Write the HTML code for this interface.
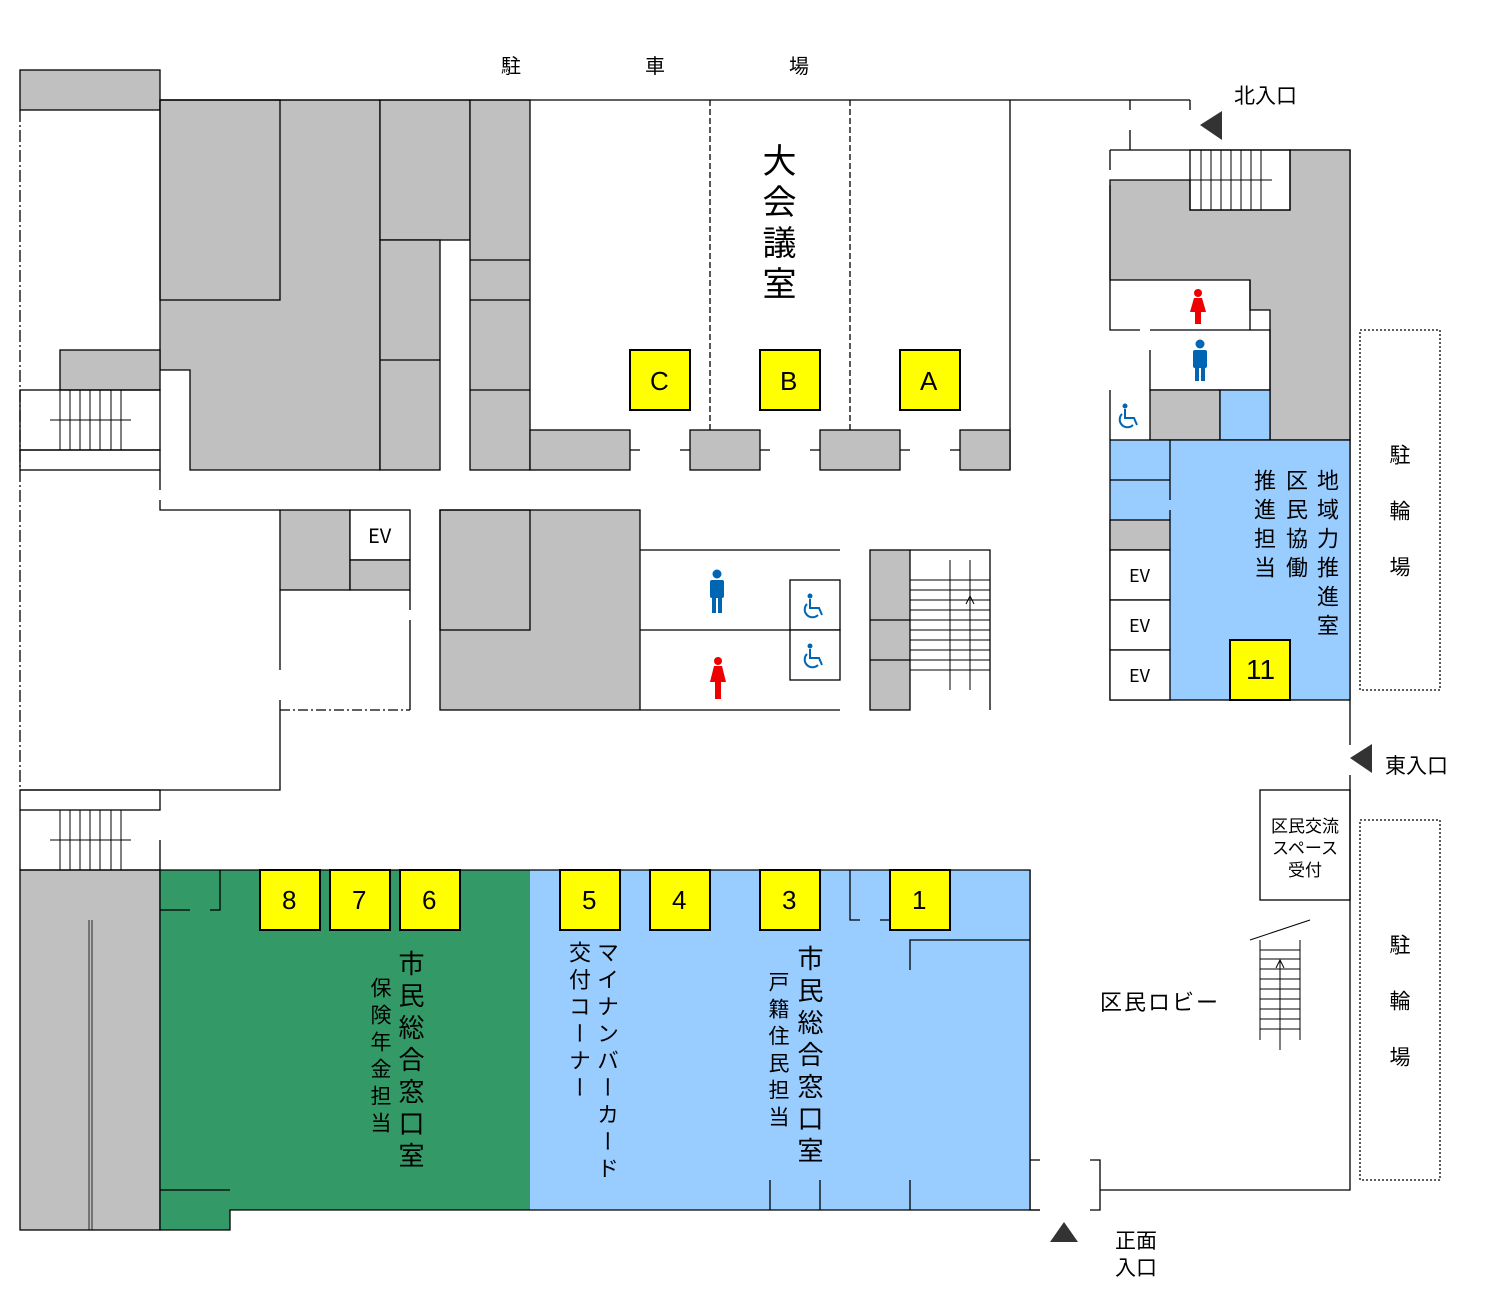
<!DOCTYPE html>
<html><head><meta charset="utf-8"><style>
body{margin:0;background:#fff;width:1511px;height:1311px;overflow:hidden;position:relative;font-family:"Liberation Sans","Noto Sans CJK JP",sans-serif}
svg{position:absolute;left:0;top:0}
.v{position:absolute;writing-mode:vertical-rl;font-family:"Noto Sans CJK JP",sans-serif;color:#000;line-height:1;white-space:nowrap}
.t{position:absolute;font-family:"Noto Sans CJK JP",sans-serif;color:#000;line-height:1;white-space:nowrap}
</style></head><body>
<svg width="1511" height="1311" viewBox="0 0 1511 1311" fill="none" stroke="#000" stroke-width="1.3">
<!-- top-left -->
<rect x="20" y="70" width="140" height="40" fill="#c0c0c0"/>
<line x1="20" y1="110" x2="20" y2="790" stroke-dasharray="12,3,2,3"/>
<path d="M160 100 H380 V470 H190 V370 H160 Z" fill="#c0c0c0"/>
<rect x="160" y="100" width="120" height="200"/>
<rect x="60" y="350" width="100" height="40" fill="#c0c0c0"/>
<rect x="20" y="390" width="140" height="60"/>
<rect x="20" y="450" width="140" height="20"/>
<g stroke-width="1"><path d="M60 390V450M70 390V450M80 390V450M90 390V450M100 390V450M111 390V450M121 390V450M50 420H131"/></g>
<path d="M160 470V490M160 500V510H280"/>
<!-- column 380-470 -->
<rect x="380" y="100" width="90" height="140" fill="#c0c0c0"/>
<rect x="380" y="240" width="60" height="230" fill="#c0c0c0"/>
<line x1="380" y1="360" x2="440" y2="360"/>
<rect x="470" y="100" width="60" height="370" fill="#c0c0c0"/>
<path d="M470 260H530M470 300H530M470 390H530"/>
<!-- conference -->
<path d="M160 100H1190M1010 100V470"/>
<path d="M710 100V430M850 100V430" stroke-dasharray="6,3"/>
<rect x="530" y="430" width="100" height="40" fill="#c0c0c0"/>
<rect x="690" y="430" width="70" height="40" fill="#c0c0c0"/>
<rect x="820" y="430" width="80" height="40" fill="#c0c0c0"/>
<rect x="960" y="430" width="50" height="40" fill="#c0c0c0"/>
<path d="M630 450H640M680 450H690M760 450H770M810 450H820M900 450H910M950 450H960"/>
<g fill="#ff0" stroke-width="2"><rect x="630" y="350" width="60" height="60"/><rect x="760" y="350" width="60" height="60"/><rect x="900" y="350" width="60" height="60"/></g>
<!-- north -->
<path d="M1130 100V110M1130 130V150M1190 100V110"/>
<polygon points="1200,125 1222,111 1222,140" fill="#333" stroke="none"/>
<!-- right block -->
<path d="M1110 150H1350V700" />
<path d="M1110 180H1190V210H1290V150H1350V440H1270V310H1250V280H1110Z" fill="#c0c0c0"/>
<rect x="1190" y="150" width="100" height="60"/>
<g stroke-width="1"><path d="M1201 150V210M1211 150V210M1221 150V210M1231 150V210M1241 150V210M1251 150V210M1261 150V210M1190 180H1272"/></g>
<path d="M1110 150V170M1110 185V280M1110 280V330H1140M1150 330H1250V280M1250 310V330H1270V390M1150 350V390H1270"/>
<rect x="1150" y="390" width="70" height="50" fill="#c0c0c0"/>
<rect x="1220" y="390" width="50" height="50" fill="#99ccff"/>
<path d="M1110 390V440"/>
<rect x="1110" y="440" width="240" height="260" fill="#99ccff"/>
<path d="M1170 440V500M1170 510V520M1110 480H1170"/>
<rect x="1110" y="520" width="60" height="30" fill="#c0c0c0"/>
<rect x="1110" y="550" width="60" height="50" fill="#fff"/>
<rect x="1110" y="600" width="60" height="50" fill="#fff"/>
<rect x="1110" y="650" width="60" height="50" fill="#fff"/>
<rect x="1230" y="640" width="60" height="60" fill="#ff0" stroke-width="2"/>
<rect x="1360" y="330" width="80" height="360" stroke-dasharray="2,2"/>
<rect x="1360" y="820" width="80" height="360" stroke-dasharray="2,2"/>
<path d="M1350 700V745M1350 775V1190H1100"/>
<polygon points="1350,758 1372,744 1372,773" fill="#333" stroke="none"/>
<rect x="1260" y="790" width="90" height="110"/>
<g stroke-width="1"><path d="M1250 940L1310 920M1260 940V1040M1300 940V1040M1280 1050V960M1276 968L1280 960L1284 968"/>
<path d="M1260 950H1300M1260 959H1300M1260 969H1300M1260 979H1300M1260 989H1300M1260 999H1300M1260 1009H1300M1260 1019H1300M1260 1029H1300"/></g>
<path d="M1030 870V1160H1040M1030 1160V1210H1040M1090 1160H1100V1210H1090"/>
<polygon points="1050,1242 1064,1222 1078,1242" fill="#333" stroke="none"/>
<!-- middle left -->
<rect x="280" y="510" width="70" height="80" fill="#c0c0c0"/>
<rect x="350" y="510" width="60" height="50" fill="#fff"/>
<rect x="350" y="560" width="60" height="30" fill="#c0c0c0"/>
<path d="M280 590V670M280 700V790H20M410 590V610M410 620V710"/>
<path d="M280 710H410" stroke-dasharray="10,3,2,3"/>
<rect x="440" y="510" width="200" height="200" fill="#c0c0c0"/>
<rect x="440" y="510" width="90" height="120"/>
<path d="M640 550H840M640 630H840M640 710H840"/>
<rect x="790" y="580" width="50" height="50" fill="#fff"/>
<rect x="790" y="630" width="50" height="50" fill="#fff"/>
<rect x="870" y="550" width="40" height="160" fill="#c0c0c0"/>
<path d="M870 620H910M870 660H910M910 550H990V710"/>
<g stroke-width="1"><path d="M950 560V690M970 560V690M966 604L970 596L974 604"/>
<path d="M910 580H990M910 590H990M910 600H990M910 610H990M910 620H990M910 630H990M910 640H990M910 650H990M910 660H990M910 670H990"/></g>
<!-- lower left stair -->
<rect x="20" y="790" width="140" height="20"/>
<g stroke-width="1"><path d="M60 810V870M70 810V870M80 810V870M90 810V870M100 810V870M111 810V870M121 810V870M50 840H131"/></g>
<path d="M20 810V870M160 840V870"/>
<!-- bottom -->
<rect x="20" y="870" width="140" height="360" fill="#c0c0c0"/>
<path d="M89 920V1230M92 920V1230" stroke-width="0.8"/>
<path d="M160 870H530V1210H230V1230H160Z" fill="#339966" stroke="none"/>
<rect x="530" y="870" width="500" height="340" fill="#99ccff" stroke="none"/>
<path d="M20 870H1030V1210M160 870V1230H230V1210H1040M160 910H190M210 910H220V870M160 1190H230"/>
<path d="M850 870V920H860M880 920H890M910 970V940H1030M770 1180V1210M820 1180V1210M910 1180V1210"/>
<g fill="#ff0" stroke-width="2">
<rect x="260" y="870" width="60" height="60"/><rect x="330" y="870" width="60" height="60"/><rect x="400" y="870" width="60" height="60"/>
<rect x="560" y="870" width="60" height="60"/><rect x="650" y="870" width="60" height="60"/><rect x="760" y="870" width="60" height="60"/><rect x="890" y="870" width="60" height="60"/></g>
<!-- icons -->
<g stroke="none">
<g fill="#e00"><circle cx="1198" cy="293" r="4"/><path d="M1194 298h8l4 14h-5v12h-6v-12h-5z"/></g>
<g fill="#0066b3"><circle cx="1200" cy="344" r="4.5"/><rect x="1193" y="350" width="14" height="18" rx="2"/><rect x="1195" y="366" width="4" height="15"/><rect x="1201" y="366" width="4" height="15"/></g>
<g fill="#0066b3"><circle cx="717" cy="574" r="4.5"/><rect x="710" y="580" width="14" height="18" rx="2"/><rect x="712" y="596" width="4" height="17"/><rect x="718" y="596" width="4" height="17"/></g>
<g fill="#e00"><circle cx="718" cy="661" r="4"/><path d="M714 666h8l4 16h-5v17h-6v-17h-5z"/></g>
</g>
<g stroke="#0066b3" stroke-width="2" fill="none">
<g transform="translate(1130,416)"><circle cx="-5" cy="-10" r="1.5" fill="#0066b3"/><path d="M-5 -7V2H4L7 9M-8 -2A7 7 0 1 0 3 9"/></g>
<g transform="translate(815,606)"><circle cx="-5" cy="-10" r="1.5" fill="#0066b3"/><path d="M-5 -7V2H4L7 9M-8 -2A7 7 0 1 0 3 9"/></g>
<g transform="translate(815,656)"><circle cx="-5" cy="-10" r="1.5" fill="#0066b3"/><path d="M-5 -7V2H4L7 9M-8 -2A7 7 0 1 0 3 9"/></g>
</g>
</svg>
<!-- labels -->
<div class="t" style="left:501px;top:55px;font-size:20px">駐</div>
<div class="t" style="left:645px;top:55px;font-size:20px">車</div>
<div class="t" style="left:789px;top:55px;font-size:20px">場</div>
<div class="t" style="left:1234px;top:85px;font-size:21px">北入口</div>
<div class="t" style="left:1385px;top:755px;font-size:21px">東入口</div>
<div class="t" style="left:1115px;top:1227px;font-size:21px;line-height:27px">正面<br>入口</div>
<div class="t" style="left:1100px;top:990px;font-size:22px;letter-spacing:2px">区民ロビー</div>
<div class="t" style="left:1262px;top:814px;font-size:17px;line-height:22px;text-align:center;width:86px">区民交流<br>スペース<br>受付</div>
<div class="t" style="left:368px;top:525px;font-size:20px">EV</div>
<div class="t" style="left:1129px;top:566px;font-size:18px">EV</div>
<div class="t" style="left:1129px;top:616px;font-size:18px">EV</div>
<div class="t" style="left:1129px;top:666px;font-size:18px">EV</div>
<div class="t" style="left:650px;top:368px;font-size:26px;font-family:'Liberation Sans',sans-serif">C</div>
<div class="t" style="left:780px;top:368px;font-size:26px;font-family:'Liberation Sans',sans-serif">B</div>
<div class="t" style="left:920px;top:368px;font-size:26px;font-family:'Liberation Sans',sans-serif">A</div>
<div class="t" style="left:1246px;top:656px;font-size:28px;font-family:'Liberation Sans',sans-serif">11</div>
<div class="t" style="left:282px;top:887px;font-size:26px;font-family:'Liberation Sans',sans-serif">8</div>
<div class="t" style="left:352px;top:887px;font-size:26px;font-family:'Liberation Sans',sans-serif">7</div>
<div class="t" style="left:422px;top:887px;font-size:26px;font-family:'Liberation Sans',sans-serif">6</div>
<div class="t" style="left:582px;top:887px;font-size:26px;font-family:'Liberation Sans',sans-serif">5</div>
<div class="t" style="left:672px;top:887px;font-size:26px;font-family:'Liberation Sans',sans-serif">4</div>
<div class="t" style="left:782px;top:887px;font-size:26px;font-family:'Liberation Sans',sans-serif">3</div>
<div class="t" style="left:912px;top:887px;font-size:26px;font-family:'Liberation Sans',sans-serif">1</div>
<div class="v" style="left:762px;top:143px;font-size:34px;letter-spacing:7px">大会議室</div>
<div class="v" style="left:1317px;top:469px;font-size:22px;letter-spacing:7px">地域力推進室</div>
<div class="v" style="left:1286px;top:469px;font-size:22px;letter-spacing:7px">区民協働</div>
<div class="v" style="left:1254px;top:469px;font-size:22px;letter-spacing:7px">推進担当</div>
<div class="v" style="left:1389px;top:444px;font-size:21px;letter-spacing:35px">駐輪場</div>
<div class="v" style="left:1389px;top:934px;font-size:21px;letter-spacing:35px">駐輪場</div>
<div class="v" style="left:398px;top:950px;font-size:26px;letter-spacing:6px">市民総合窓口室</div>
<div class="v" style="left:370px;top:977px;font-size:21px;letter-spacing:6px">保険年金担当</div>
<div class="v" style="left:597px;top:941px;font-size:22px;letter-spacing:5px">マイナンバーカード</div>
<div class="v" style="left:569px;top:941px;font-size:22px;letter-spacing:5px">交付コーナー</div>
<div class="v" style="left:797px;top:945px;font-size:26px;letter-spacing:6px">市民総合窓口室</div>
<div class="v" style="left:768px;top:971px;font-size:21px;letter-spacing:6px">戸籍住民担当</div>
</body></html>
